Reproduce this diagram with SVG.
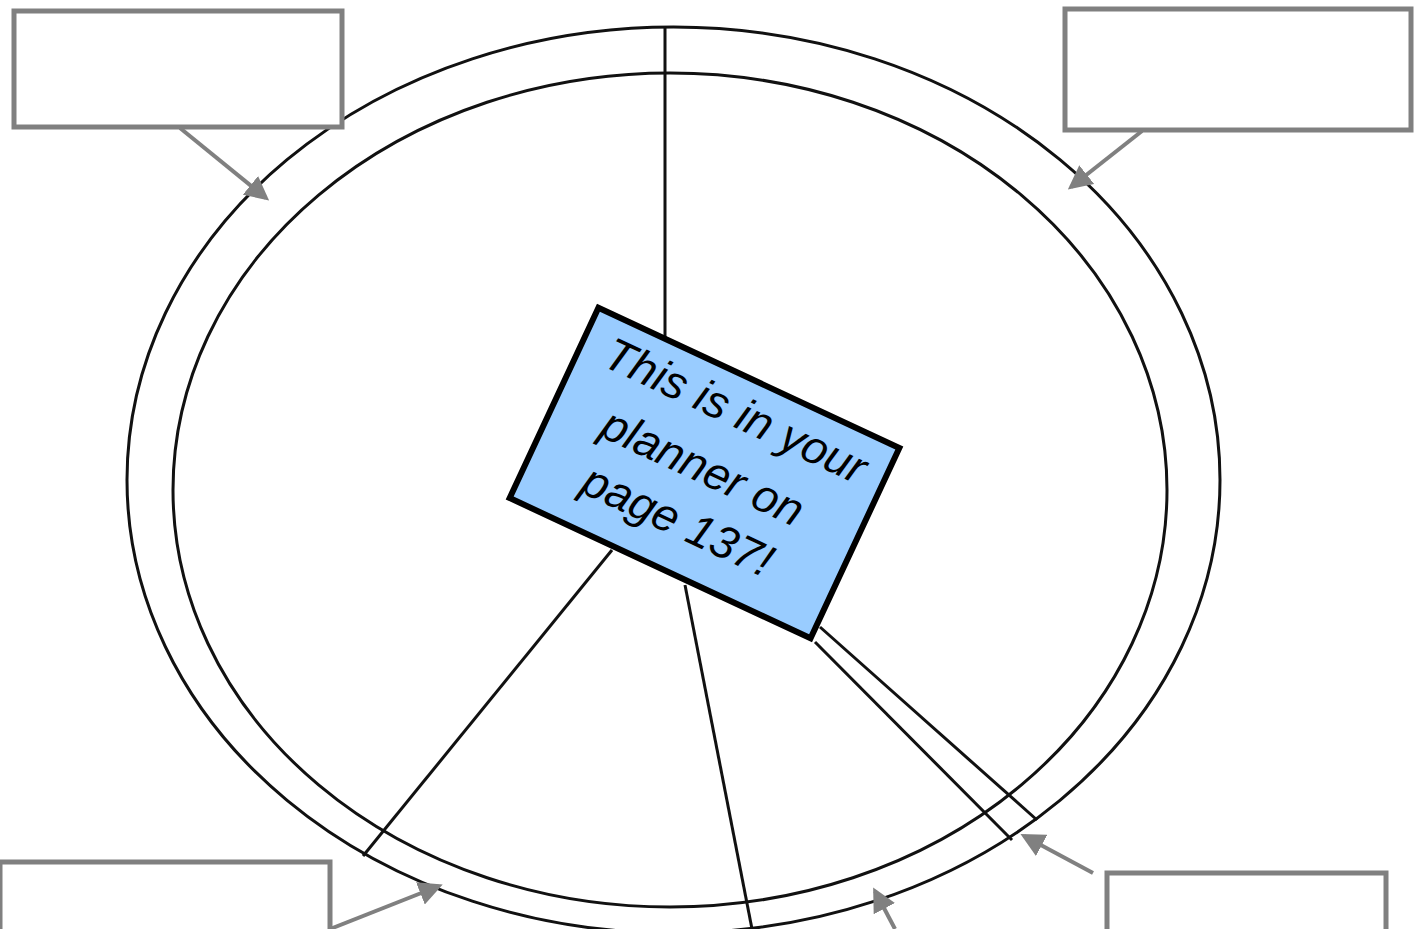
<svg xmlns="http://www.w3.org/2000/svg" width="1427" height="929" viewBox="0 0 1427 929">
<style>
.ring{fill:none;stroke:#111;stroke-width:3}
.spoke{fill:none;stroke:#111;stroke-width:3}
.lbl{fill:#fff;stroke:#808080;stroke-width:5}
.arr{fill:none;stroke:#808080;stroke-width:4}
.note{fill:#99CCFF;stroke:#000;stroke-width:6}
.txt{font-family:"Liberation Sans",Arial,sans-serif;font-style:italic;font-size:46px;fill:#000;text-anchor:middle}
</style>
<defs>
<marker id="ah" markerWidth="6" markerHeight="6" refX="5" refY="3" orient="auto" markerUnits="strokeWidth">
<path d="M0,0 L6,3 L0,6 Z" fill="#808080"/>
</marker>
</defs>
<rect width="1427" height="929" fill="#fff"/>
<g id="wheel">
<ellipse class="ring" cx="673.5" cy="480" rx="546.5" ry="453"/>
<ellipse class="ring" cx="670" cy="490" rx="497" ry="417"/>
</g>
<g id="connectors">
<line class="spoke" x1="665" y1="27" x2="665" y2="340"/>
<line class="spoke" x1="612" y1="550" x2="363" y2="856"/>
<line class="spoke" x1="685" y1="585" x2="752" y2="929"/>
<line class="spoke" x1="820" y1="627" x2="1037" y2="820"/>
<line class="spoke" x1="815" y1="642" x2="1012" y2="840"/>
<line class="arr" x1="180" y1="128" x2="266" y2="198" marker-end="url(#ah)"/>
<line class="arr" x1="1142" y1="131" x2="1071" y2="187" marker-end="url(#ah)"/>
<line class="arr" x1="330" y1="929" x2="439" y2="886" marker-end="url(#ah)"/>
<line class="arr" x1="1093" y1="873" x2="1024" y2="836" marker-end="url(#ah)"/>
<line class="arr" x1="895" y1="929" x2="875" y2="891" marker-end="url(#ah)"/>
</g>
<g id="label-top-left"><rect class="lbl" x="14" y="11" width="328" height="116"/></g>
<g id="label-top-right"><rect class="lbl" x="1065" y="9" width="346" height="121"/></g>
<g id="label-bottom-left"><rect class="lbl" x="0" y="862" width="330" height="80"/></g>
<g id="label-bottom-right"><rect class="lbl" x="1107" y="873" width="279" height="70"/></g>
<g id="note" transform="translate(704.5,473) rotate(25)">
<rect class="note" x="-166" y="-105" width="332" height="210"/>
<text class="txt" x="2" y="-54">This is in your</text>
<text class="txt" x="-4" y="11">planner on</text>
<text class="txt" x="-4" y="70">page 137!</text>
</g>
</svg>
